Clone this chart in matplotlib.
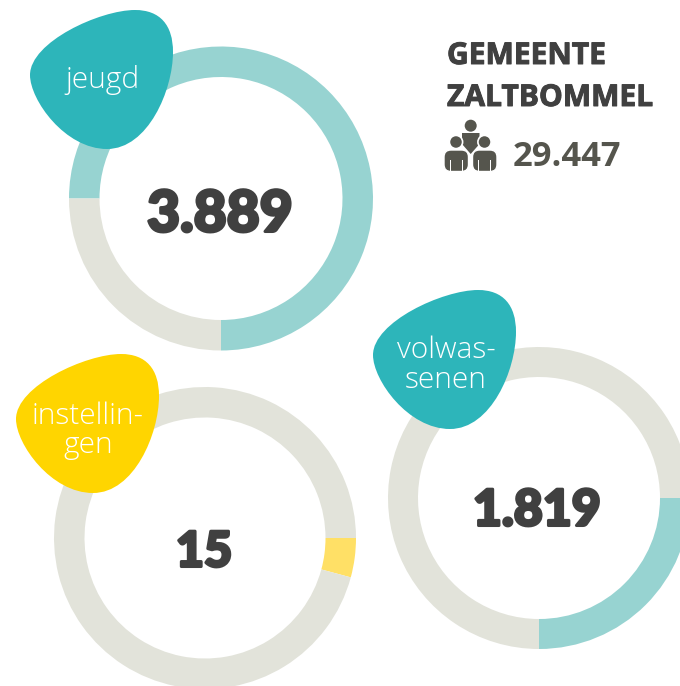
import matplotlib
matplotlib.use("Agg")
import matplotlib.pyplot as plt
import matplotlib.patheffects as pe
from matplotlib.path import Path
from matplotlib.patches import PathPatch, Circle, FancyBboxPatch, Rectangle

W, H = 680, 686
TEAL, LTEAL, GREY, YEL, LYEL = "#2DB5BA", "#97D3D1", "#E2E3DA", "#FFD500", "#FFE066"
DARK, ICON = "#404040", "#55554D"

ring_labels = ["jeugd", "instellin-\ngen", "volwas-\nsenen"]
ring_values = ["3.889", "15", "1.819"]
ring_shares = [75.0, 4.2, 25.0]
ring_starts = [180.0, 0.0, 0.0]
header_lines = ["GEMEENTE", "ZALTBOMMEL"]
population = "29.447"

centers = [(221, 198.5), (205, 538), (539, 498)]
outer_radii = [152, 151, 151]
inner_radii = [121.5, 120.5, 121]
blob_offsets = [(0, 0), (-14, 344), (343, 280)]
arc_colors = [LTEAL, LYEL, LTEAL]
blob_colors = [TEAL, YEL, TEAL]
label_pos = [(102, 80), (88, 431), (446, 365)]
value_pos = [(220, 215), (204, 552), (537, 511)]
value_sizes = [41, 35, 36]

fig = plt.figure(figsize=(W / 100, H / 100), dpi=100)
ax = fig.add_axes([0, 0, 1, 1])

for (cx, cy), share, start, col, R, r in zip(centers, ring_shares, ring_starts, arc_colors,
                                             outer_radii, inner_radii):
    ax.pie([share, 100 - share], colors=[col, GREY], startangle=start, counterclock=False,
           center=(cx, H - cy), radius=R, wedgeprops=dict(width=R - r, linewidth=0))

ax.set_xlim(0, W)
ax.set_ylim(0, H)
ax.set_aspect("equal")
ax.axis("off")

blob = [(30, 75), (30, 42), (100, 10), (135, 10), (160, 10), (173, 25), (173, 52),
        (173, 90), (148, 149), (107, 149), (65, 149), (30, 100), (30, 75)]
codes = [Path.MOVETO] + [Path.CURVE4] * 12
for (dx, dy), c in zip(blob_offsets, blob_colors):
    verts = [(x + dx, H - (y + dy)) for x, y in blob]
    ax.add_patch(PathPatch(Path(verts, codes), fc=c, ec="none", zorder=5))

for (x, y), t in zip(label_pos, ring_labels):
    ax.text(x, H - y, t, color="white", fontsize=21.5, family="Open Sans", weight="light",
            ha="center", va="center", linespacing=1.0, zorder=6)
heavy = [pe.withStroke(linewidth=2.2, foreground=DARK)]
for (x, y), t, s in zip(value_pos, ring_values, value_sizes):
    ax.text(x, H - y, t, color=DARK, fontsize=s, family="Lato", weight="black",
            ha="center", va="center", zorder=6, path_effects=heavy)

semi = [pe.withStroke(linewidth=0.7, foreground=DARK)]
ax.text(447, H - 56, header_lines[0], color=DARK, fontsize=21.6, family="Open Sans", weight="bold",
        ha="left", va="center", path_effects=semi)
ax.text(447, H - 98, header_lines[1], color=DARK, fontsize=21.6, family="Open Sans", weight="bold",
        ha="left", va="center", path_effects=semi)
ax.text(513, H - 157, population, color=ICON, fontsize=24.8, family="Open Sans", weight="bold",
        ha="left", va="center")

# people icon
ax.add_patch(Circle((470.7, H - 125.7), 6, fc=ICON, ec="none", zorder=2))
body = [(462, 133), (479.5, 133), (479.5, 144), (470.7, 154), (462, 144)]
ax.fill([p[0] for p in body], [H - p[1] for p in body], color=ICON, lw=0, zorder=2)
for hx, x in ((456, 444), (484.5, 472.5)):
    ax.add_patch(FancyBboxPatch((x, H - 171.5), 24.5, 21.5, boxstyle="round,pad=0,rounding_size=7",
                                fc=ICON, ec="white", lw=1, zorder=3))
    ax.add_patch(Circle((hx, H - 142), 6.6, fc=ICON, ec="white", lw=1.2, zorder=3))
    for slit in (6, 18):
        ax.add_patch(Rectangle((x + slit - 0.5, H - 172), 1.2, 12, fc="white", ec="none", zorder=4))

fig.savefig("out.png", dpi=100, facecolor="white")
